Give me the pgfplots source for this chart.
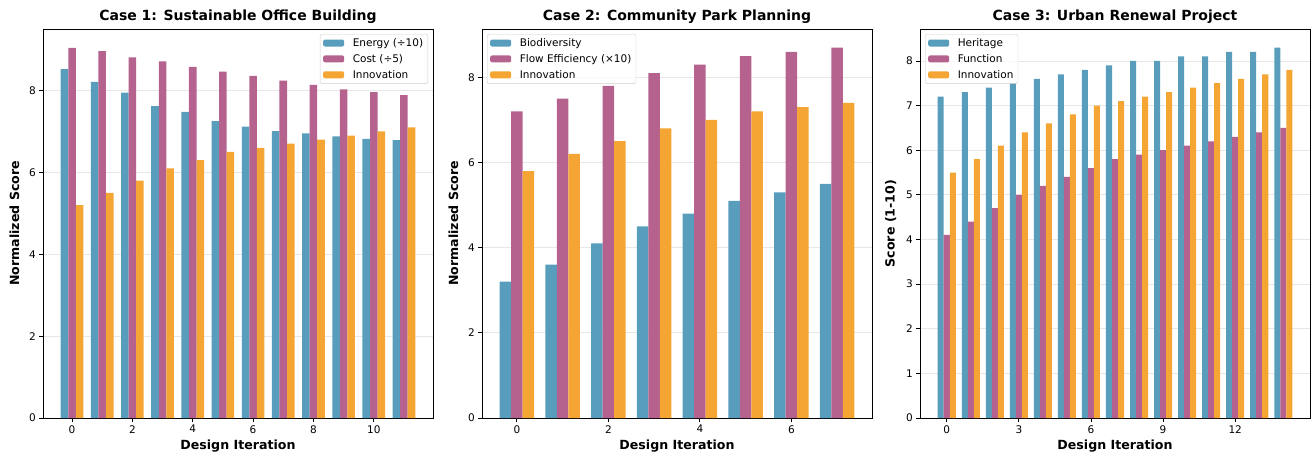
\documentclass[border=0pt]{standalone}
\usepackage{fontspec}
\setmainfont{DejaVu Sans}
\usepackage{pgfplots}
\usepackage{pgfplotstable}
\pgfplotsset{compat=1.18}
\definecolor{cblue}{HTML}{589EBC}
\definecolor{cmag}{HTML}{B5628E}
\definecolor{corange}{HTML}{F4A534}
\definecolor{gridc}{HTML}{E7E7E7}

\pgfplotstableread{
energy cost innov
8.52 9.04 5.2
8.21 8.96 5.5
7.95 8.81 5.8
7.62 8.71 6.1
7.48 8.58 6.3
7.25 8.46 6.5
7.12 8.36 6.6
7.01 8.24 6.7
6.95 8.14 6.8
6.88 8.03 6.9
6.82 7.96 7.0
6.79 7.89 7.1
}\dataone

\pgfplotstableread{
bio flow innov
3.2 7.2 5.8
3.6 7.5 6.2
4.1 7.8 6.5
4.5 8.1 6.8
4.8 8.3 7.0
5.1 8.5 7.2
5.3 8.6 7.3
5.5 8.7 7.4
}\datatwo

\pgfplotstableread{
her func innov
7.2 4.1 5.5
7.3 4.4 5.8
7.4 4.7 6.1
7.5 5.0 6.4
7.6 5.2 6.6
7.7 5.4 6.8
7.8 5.6 7.0
7.9 5.8 7.1
8.0 5.9 7.2
8.0 6.0 7.3
8.1 6.1 7.4
8.1 6.2 7.5
8.2 6.3 7.6
8.2 6.4 7.7
8.3 6.5 7.8
}\datathree

\pgfplotsset{
  myaxis/.style={
    scale only axis, width=390pt, height=389pt,
    axis line style={line width=0.8pt},
    tick align=outside, xtick pos=left, ytick pos=left,
    major tick length=3.7pt,
    tick style={line width=0.8pt, black},
    ymin=0,
    ymajorgrids, major grid style={color=gridc, line width=0.8pt},
    /pgf/number format/assume math mode=true,
    tick label style={font=\fontsize{10.5}{12}\selectfont},
    label style={font=\fontsize{12.6}{14}\selectfont\bfseries},
    title style={font=\fontsize{14}{16}\selectfont\bfseries, yshift=-4pt},
    xlabel={Design Iteration},
    ylabel style={yshift=3pt},
    legend style={font=\fontsize{10.5}{12}\selectfont, draw=black!20, rounded corners=2pt,
      fill=white, fill opacity=0.8, text opacity=1, inner xsep=3pt, inner ysep=2.5pt,
      nodes={inner sep=1.6pt}, row sep=3.2pt},
    legend cell align=left,
    legend image code/.code={\fill[##1, fill opacity=1] (0pt,-3.5pt) rectangle (21pt,3.5pt); \path (0pt,0pt) (28pt,0pt);},
  },
  bars/.style={ybar, bar width=0.25, bar shift=0pt, draw=none, fill=#1},
}

\begin{document}
\begin{tikzpicture}
\useasboundingbox (0,0) rectangle (1312pt,461pt);

\begin{axis}[myaxis, at={(43pt,43pt)}, anchor=south west,
  xmin=-0.9625, xmax=11.9625, ymax=9.5025,
  xtick={0,2,4,6,8,10}, ytick={0,2,4,6,8},
  ylabel={Normalized Score},
  title={Case 1: Sustainable Office Building},
  legend style={at={(1,1)}, anchor=north east, xshift=-5pt, yshift=-5pt}]
\addplot[bars=cblue] table[x expr=\coordindex-0.25, y=energy] {\dataone};
\addplot[bars=cmag] table[x expr=\coordindex, y=cost] {\dataone};
\addplot[bars=corange] table[x expr=\coordindex+0.25, y=innov] {\dataone};
\legend{Energy (÷10), Cost (÷5), Innovation}
\end{axis}

\begin{axis}[myaxis, at={(482pt,43pt)}, anchor=south west,
  xmin=-0.7625, xmax=7.7625, ymax=9.135,
  xtick={0,2,4,6}, ytick={0,2,4,6,8},
  ylabel={Normalized Score},
  title={Case 2: Community Park Planning},
  legend style={at={(0,1)}, anchor=north west, xshift=5pt, yshift=-5pt}]
\addplot[bars=cblue] table[x expr=\coordindex-0.25, y=bio] {\datatwo};
\addplot[bars=cmag] table[x expr=\coordindex, y=flow] {\datatwo};
\addplot[bars=corange] table[x expr=\coordindex+0.25, y=innov] {\datatwo};
\legend{Biodiversity, Flow Efficiency (×10), Innovation}
\end{axis}

\begin{axis}[myaxis, at={(920pt,43pt)}, anchor=south west,
  xmin=-1.1125, xmax=15.1125, ymax=8.715,
  xtick={0,3,6,9,12}, ytick={0,1,2,3,4,5,6,7,8},
  ylabel={Score (1-10)},
  title={Case 3: Urban Renewal Project},
  legend style={at={(0,1)}, anchor=north west, xshift=5pt, yshift=-5pt}]
\addplot[bars=cblue] table[x expr=\coordindex-0.25, y=her] {\datathree};
\addplot[bars=cmag] table[x expr=\coordindex, y=func] {\datathree};
\addplot[bars=corange] table[x expr=\coordindex+0.25, y=innov] {\datathree};
\legend{Heritage, Function, Innovation}
\end{axis}
\end{tikzpicture}
\end{document}
